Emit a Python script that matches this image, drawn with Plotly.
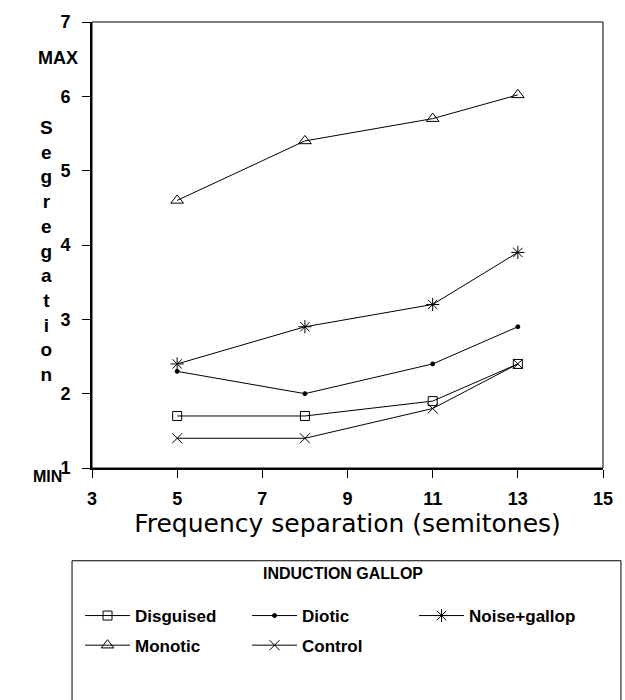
import plotly.graph_objects as go

x_vals = [5, 8, 11, 13]
disguised = [1.7, 1.7, 1.9, 2.4]
diotic = [2.3, 2.0, 2.4, 2.9]
noise_gallop = [2.4, 2.9, 3.2, 3.9]
monotic = [4.6, 5.4, 5.7, 6.02]
control = [1.4, 1.4, 1.8, 2.4]

x_ticks = [3, 5, 7, 9, 11, 13, 15]
y_ticks = [1, 2, 3, 4, 5, 6, 7]

FONT = "Liberation Sans, Arial, sans-serif"
TFONT = "DejaVu Sans, sans-serif"
W, H = 625, 700
L, R, T, B = 92, 21, 16, 232
pw, ph = W - L - R, H - T - B

def px_x(p):
    return (p - L) / pw

def px_y(p):
    return (H - B - p) / ph

series = [
    ("Disguised", disguised, "square-open", 9, "legend"),
    ("Diotic", diotic, "circle", 4, "legend"),
    ("Noise+gallop", noise_gallop, "asterisk-open", 11, "legend"),
    ("Monotic", monotic, "triangle-up-open", 11, "legend2"),
    ("Control", control, "x-thin-open", 10, "legend2"),
]

fig = go.Figure()
for name, ys, sym, size, lg in series:
    fig.add_trace(go.Scatter(
        x=x_vals, y=ys, name=name, mode="lines+markers",
        line=dict(color="black", width=1),
        marker=dict(symbol=sym, size=size, color="black",
                    line=dict(color="black", width=1)),
        legend=lg,
    ))

legend_common = dict(
    orientation="h", xanchor="left", yanchor="middle",
    font=dict(family=FONT, size=17, color="black", weight="bold"),
    bgcolor="rgba(0,0,0,0)", entrywidth=107, entrywidthmode="pixels",
    itemwidth=45, traceorder="normal",
)

fig.update_layout(
    width=W, height=H,
    margin=dict(l=L, r=R, t=T, b=B),
    paper_bgcolor="white", plot_bgcolor="white",
    font=dict(family=FONT, color="black"),
    showlegend=True,
    legend=dict(x=px_x(80), y=px_y(618), **legend_common),
    legend2=dict(x=px_x(80), y=px_y(648), **legend_common),
    xaxis=dict(
        range=[3, 15], tickvals=x_ticks, ticktext=[str(v) for v in x_ticks],
        ticks="outside", ticklen=8, tickcolor="black", tickwidth=1,
        showline=True, linecolor="black", linewidth=2, mirror=False,
        showgrid=False, zeroline=False, ticklabelstandoff=5,
        tickfont=dict(family=FONT, size=18, color="black", weight="bold"),
        title=dict(text="Frequency separation (semitones)",
                   font=dict(family=TFONT, size=25, color="black"), standoff=6),
    ),
    yaxis=dict(
        range=[1, 7], tickvals=y_ticks, ticktext=[str(v) for v in y_ticks],
        ticks="outside", ticklen=8, tickcolor="black", tickwidth=1,
        showline=True, linecolor="black", linewidth=2, mirror=False,
        showgrid=False, zeroline=False, ticklabelstandoff=8,
        tickfont=dict(family=FONT, size=18, color="black", weight="bold"),
    ),
)

# thin frame (top/right borders)
fig.add_shape(type="rect", xref="paper", yref="paper", x0=0, x1=1, y0=0, y1=1,
              line=dict(color="black", width=1), layer="below")

# vertical stacked y-axis label
fig.add_annotation(
    x=px_x(46), y=px_y(248), xref="paper", yref="paper",
    text="<br>".join(list("Segregation")), showarrow=False,
    xanchor="center", yanchor="middle", align="center",
    font=dict(family=FONT, size=19, color="black", weight="bold"),
)
fig.add_annotation(x=px_x(36), y=px_y(40), xref="paper", yref="paper",
                   text="MAX", showarrow=False,
                   font=dict(family=FONT, size=18, color="black", weight="bold"))
fig.add_annotation(x=px_x(31), y=px_y(487), xref="paper", yref="paper",
                   text="MIN", showarrow=False,
                   font=dict(family=FONT, size=16, color="black", weight="bold"))
fig.add_annotation(x=px_x(343), y=px_y(586), xref="paper", yref="paper",
                   text="INDUCTION GALLOP", showarrow=False,
                   font=dict(family=FONT, size=16, color="black", weight="bold"))
fig.add_shape(type="rect", xref="paper", yref="paper",
              x0=px_x(72), x1=px_x(622), y0=px_y(562), y1=px_y(720),
              line=dict(color="black", width=1))

fig.write_html("out.html")
